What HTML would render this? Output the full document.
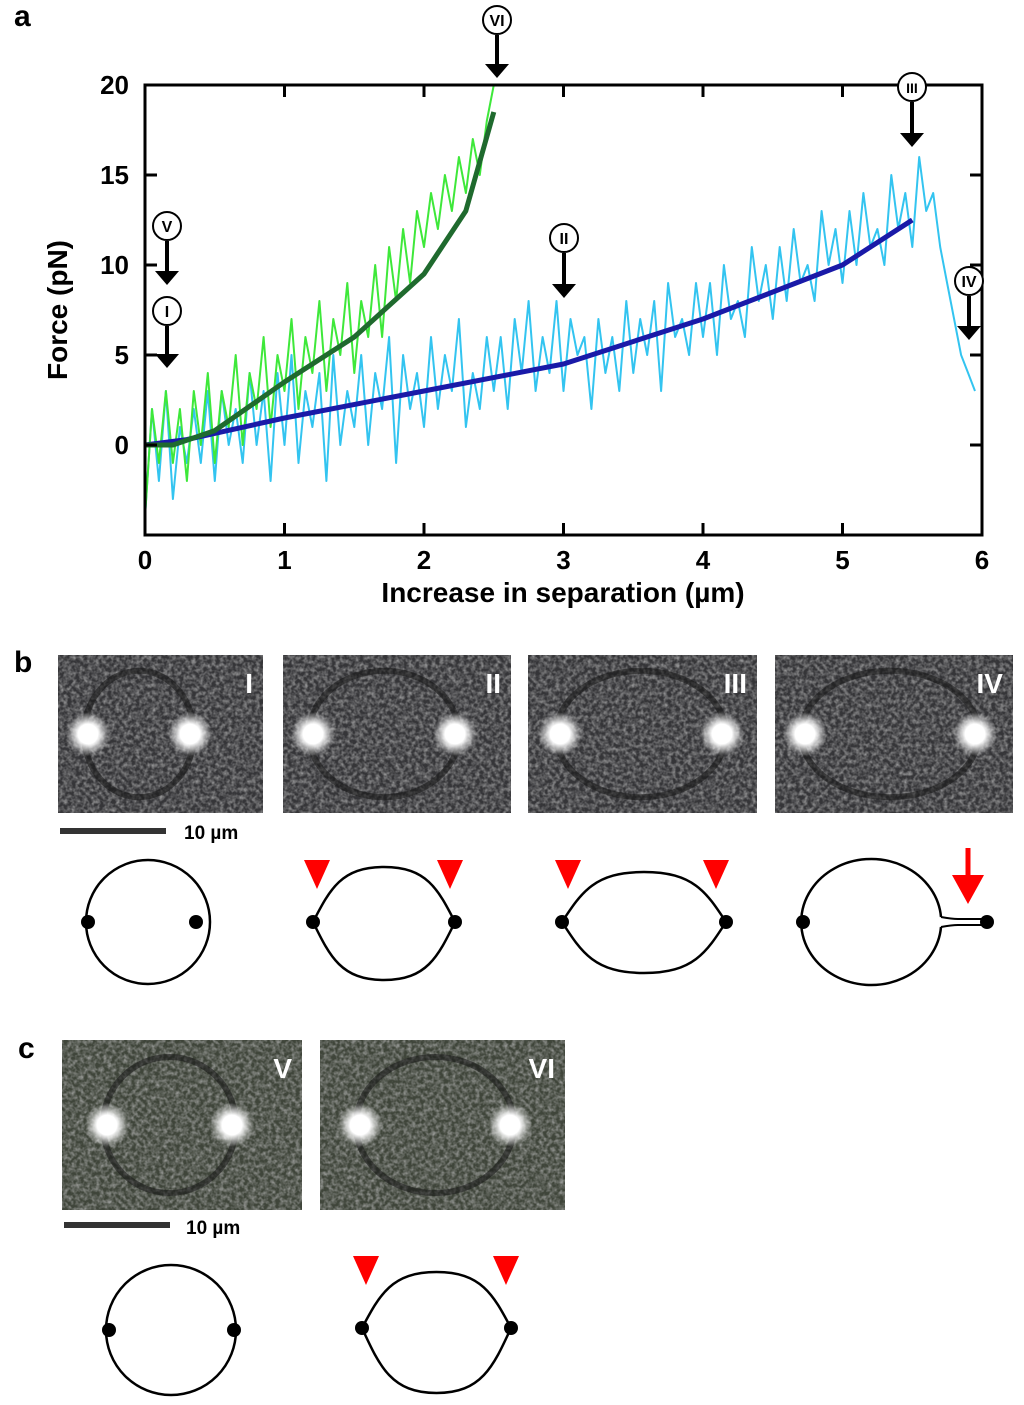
<!DOCTYPE html>
<html><head><meta charset="utf-8"><style>
html,body{margin:0;padding:0;background:#fff;}
svg{display:block;font-family:"Liberation Sans",Arial,sans-serif;}
</style></head><body>
<svg id="fig" width="1024" height="1405" viewBox="0 0 1024 1405">
<defs>
<filter id="grain" x="0" y="0" width="100%" height="100%">
<feTurbulence type="fractalNoise" baseFrequency="0.25" numOctaves="3" seed="3"/>
<feColorMatrix type="matrix" values="0 0 0 0 0.5  0 0 0 0 0.5  0 0 0 0 0.5  0 0 0 1.8 -0.6"/>
<feComposite in2="SourceGraphic" operator="in"/>
</filter>
<radialGradient id="glow"><stop offset="0" stop-color="#fff"/><stop offset="0.45" stop-color="#fff"/><stop offset="1" stop-color="#fff" stop-opacity="0"/></radialGradient>
</defs>
<text x="14" y="26" font-size="30" font-weight="bold">a</text>
<g id="plot"></g>
<g id="panelb"></g>
<g id="panelc"></g>
</svg>
<script>
const xTicks=[0,1,2,3,4,5,6];
const yTicks=[0,5,10,15,20];
const greenNoisy=[-4,2,-1,3,-1,2,-2,3,0,4,-1,3,1,5,0,4,2,6,1,5,3,7,2,6,4,8,3,7,5,9,4,8,6,10,6,11,8,12,9,13,11,14,12,15,13,16,14,17,15,18,20];
const cyanNoisy=[-4,2,-2,3,-3,1,-1,2,-1,3,-2,3,0,2,-1,4,0,3,-2,4,0,5,-1,3,1,4,-2,5,0,3,1,5,0,4,2,6,-1,5,2,4,1,6,2,5,3,7,1,4,2,6,3,6,2,7,4,8,3,6,4,8,3,7,5,6,2,7,4,6,3,8,4,7,5,8,3,9,6,7,5,9,6,9,5,10,7,8,6,11,8,10,7,11,8,12,9,10,8,13,10,12,9,13,10,14,11,12,10,15,12,14,11,16,13,14,11,9,7,5,4,3];
const greenFitX=[0,0.2,0.5,1,1.5,2,2.3,2.5];
const greenFitY=[0,0,0.8,3.5,6,9.5,13,18.5];
const blueFitX=[0,0.3,1,2,3,4,5,5.5];
const blueFitY=[0,0.3,1.5,3,4.5,7,10,12.5];
const NS='http://www.w3.org/2000/svg';
const X0=145,X1=982,YT=85,YB=535;
const sx=v=>X0+(X1-X0)*v/6;
const sy=v=>445-(445-YT)*v/20;
function mk(tag,attrs,parent,text){const e=document.createElementNS(NS,tag);for(const k in attrs)e.setAttribute(k,attrs[k]);if(text!==undefined)e.textContent=text;parent.appendChild(e);return e;}
const plot=document.getElementById('plot');
function poly(xs,ys,color,w,name){const pts=xs.map((x,i)=>sx(x).toFixed(1)+','+sy(ys[i]).toFixed(1)).join(' ');const p=mk('polyline',{points:pts,fill:'none',stroke:color,'stroke-width':w,'stroke-linejoin':'round'},plot);

}
poly(cyanNoisy.map((v,i)=>i*0.05),cyanNoisy,'#33c4f0',2,'cyan-raw-trace');
poly(greenNoisy.map((v,i)=>i*0.05),greenNoisy,'#3ee83a',2,'green-raw-trace');
poly(blueFitX,blueFitY,'#1a1aa8',5,'blue-fit-curve');
poly(greenFitX,greenFitY,'#1f6a2e',5,'green-fit-curve');
const fr=mk('rect',{x:X0,y:YT,width:X1-X0,height:YB-YT,fill:'none',stroke:'#000','stroke-width':3},plot);


xTicks.forEach(t=>{const x=sx(t);
mk('line',{x1:x,x2:x,y1:YB,y2:YB-12,stroke:'#000','stroke-width':3},plot);
mk('line',{x1:x,x2:x,y1:YT,y2:YT+12,stroke:'#000','stroke-width':3},plot);
const l=mk('text',{x:x,y:YB+34,'font-size':26,'font-weight':'bold','text-anchor':'middle'},plot,String(t));

});
yTicks.forEach(t=>{const y=sy(t);
mk('line',{x1:X0,x2:X0+12,y1:y,y2:y,stroke:'#000','stroke-width':3},plot);
mk('line',{x1:X1,x2:X1-12,y1:y,y2:y,stroke:'#000','stroke-width':3},plot);
const l=mk('text',{x:X0-16,y:y+9,'font-size':26,'font-weight':'bold','text-anchor':'end'},plot,String(t));

});
const xt=mk('text',{x:563,y:602,'font-size':28,'font-weight':'bold','text-anchor':'middle'},plot,'Increase in separation (µm)');


const yt=mk('text',{x:0,y:0,'font-size':28,'font-weight':'bold','text-anchor':'middle',transform:'translate(67,310) rotate(-90)'},plot,'Force (pN)');


function marker(cx,cy,ay,label){const g=mk('g',{},plot);


mk('circle',{cx:cx,cy:cy,r:14,fill:'#fff',stroke:'#000','stroke-width':2},g);
mk('text',{x:cx,y:cy+6,'font-size':label.length>2?14:16,'font-weight':'bold','text-anchor':'middle'},g,label);
mk('line',{x1:cx,x2:cx,y1:cy+15,y2:ay-10,stroke:'#000','stroke-width':4},g);
mk('polygon',{points:`${cx-12},${ay-14} ${cx+12},${ay-14} ${cx},${ay}`,fill:'#000'},g);}
marker(167,226,285,'V');marker(167,311,368,'I');marker(497,20,78,'VI');marker(912,87,147,'III');marker(564,238,298,'II');marker(969,281,340,'IV');
function micro(parent,x,y,w,h,bg,label,l1,l2,name){const g=mk('g',{},parent);


mk('rect',{x:x,y:y,width:w,height:h,fill:bg},g);
mk('rect',{x:x,y:y,width:w,height:h,fill:'#fff',filter:'url(#grain)',opacity:0.7},g);
const cx=(l1+l2)/2,ry=h*0.4;
mk('ellipse',{cx:cx,cy:y+h/2,rx:(l2-l1)/2+4,ry:ry,fill:'none',stroke:'#151515','stroke-width':6,opacity:0.55},g);
mk('circle',{cx:l1,cy:y+h*0.5,r:22,fill:'url(#glow)'},g);
mk('circle',{cx:l2,cy:y+h*0.5,r:22,fill:'url(#glow)'},g);
mk('text',{x:x+w-10,y:y+38,'font-size':28,'font-weight':'bold','text-anchor':'end',fill:'#fff'},g,label);}
const pb=document.getElementById('panelb'),pc=document.getElementById('panelc');
mk('text',{x:14,y:672,'font-size':30,'font-weight':'bold'},pb,'b');
micro(pb,58,655,205,158,'#353538','I',88,190,'micrograph-I');
micro(pb,283,655,228,158,'#353538','II',313,455,'micrograph-II');
micro(pb,528,655,229,158,'#353538','III',560,722,'micrograph-III');
micro(pb,775,655,238,158,'#353538','IV',805,975,'micrograph-IV');
mk('rect',{x:60,y:828,width:106,height:6,fill:'#333'},pb);
mk('text',{x:184,y:839,'font-size':19,'font-weight':'bold'},pb,'10 µm');
function tri(parent,x,y){mk('polygon',{points:`${x-13},${y} ${x+13},${y} ${x},${y+29}`,fill:'#f00'},parent);}
function lens(parent,l,r,cy,top,bot){const m=(l+r)/2,w=r-l;
mk('path',{d:`M${l},${cy} C${l+w*0.12},${cy-(cy-top)*0.6} ${m-w*0.3},${top} ${m},${top} C${m+w*0.3},${top} ${r-w*0.12},${cy-(cy-top)*0.6} ${r},${cy} C${r-w*0.12},${cy+(bot-cy)*0.6} ${m+w*0.3},${bot} ${m},${bot} C${m-w*0.3},${bot} ${l+w*0.12},${cy+(bot-cy)*0.6} ${l},${cy}Z`,fill:'none',stroke:'#000','stroke-width':2.5},parent);
mk('circle',{cx:l,cy:cy,r:7,fill:'#000'},parent);mk('circle',{cx:r,cy:cy,r:7,fill:'#000'},parent);}
const d1=mk('g',{},pb);
mk('circle',{cx:148,cy:922,r:62,fill:'none',stroke:'#000','stroke-width':2.5},d1);
mk('circle',{cx:88,cy:922,r:7,fill:'#000'},d1);mk('circle',{cx:196,cy:922,r:7,fill:'#000'},d1);
const d2=mk('g',{},pb);
lens(d2,313,455,922,867,980);tri(d2,317,860);tri(d2,450,860);
const d3=mk('g',{},pb);
lens(d3,562,726,922,872,973);tri(d3,568,860);tri(d3,716,860);
const d4=mk('g',{},pb);
mk('path',{d:'M941,917 A70,63 0 1,0 941,927',fill:'none',stroke:'#000','stroke-width':2.5},d4);
mk('path',{d:'M941,917 Q952,919 958,919 L985,919 M941,927 Q952,925 958,925 L985,925',fill:'none',stroke:'#000','stroke-width':2},d4);
mk('circle',{cx:803,cy:922,r:7,fill:'#000'},d4);mk('circle',{cx:987,cy:922,r:7,fill:'#000'},d4);
mk('line',{x1:968,x2:968,y1:848,y2:880,stroke:'#f00','stroke-width':5},d4);
mk('polygon',{points:'952,875 984,875 968,904',fill:'#f00'},d4);
mk('text',{x:18,y:1058,'font-size':30,'font-weight':'bold'},pc,'c');
micro(pc,62,1040,240,170,'#3f453a','V',107,232,'micrograph-V');
micro(pc,320,1040,245,170,'#3f453a','VI',360,510,'micrograph-VI');
mk('rect',{x:64,y:1222,width:106,height:6,fill:'#333'},pc);
mk('text',{x:186,y:1234,'font-size':19,'font-weight':'bold'},pc,'10 µm');
const d5=mk('g',{},pc);
mk('circle',{cx:171,cy:1330,r:65,fill:'none',stroke:'#000','stroke-width':2.5},d5);
mk('circle',{cx:109,cy:1330,r:7,fill:'#000'},d5);mk('circle',{cx:234,cy:1330,r:7,fill:'#000'},d5);
const d6=mk('g',{},pc);
lens(d6,362,511,1328,1272,1393);tri(d6,366,1256);tri(d6,506,1256);
</script>
</body></html>
